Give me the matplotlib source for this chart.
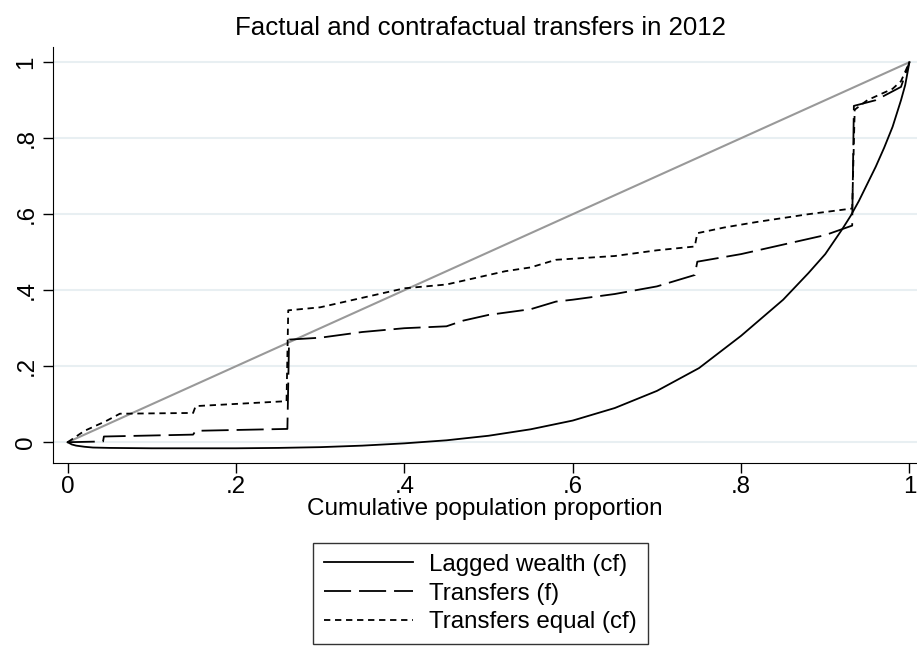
import numpy as np
import matplotlib
matplotlib.use("Agg")
import matplotlib.pyplot as plt

# Lorenz-type curves
x_lag = [0, 0.005, 0.01, 0.02, 0.03, 0.05, 0.1, 0.15, 0.2, 0.25, 0.3, 0.35, 0.4,
         0.45, 0.5, 0.55, 0.6, 0.65, 0.7, 0.75, 0.8, 0.85, 0.88, 0.9, 0.92, 0.93,
         0.94, 0.95, 0.96, 0.97, 0.98, 0.99, 0.995, 1.0]
y_lag = [0, -0.006, -0.009, -0.012, -0.014, -0.015, -0.016, -0.016, -0.016, -0.015,
         -0.013, -0.009, -0.003, 0.005, 0.017, 0.034, 0.057, 0.09, 0.135, 0.195,
         0.28, 0.375, 0.445, 0.495, 0.56, 0.595, 0.635, 0.68, 0.725, 0.775, 0.83,
         0.9, 0.94, 1.0]

x_tr = [0, 0.042, 0.043, 0.149, 0.152, 0.261, 0.263, 0.30, 0.35, 0.40, 0.45, 0.47,
        0.50, 0.55, 0.58, 0.60, 0.65, 0.70, 0.745, 0.748, 0.80, 0.85, 0.90, 0.932,
        0.934, 0.96, 0.99, 1.0]
y_tr = [0, 0.002, 0.015, 0.02, 0.03, 0.035, 0.27, 0.275, 0.29, 0.30, 0.305, 0.32,
        0.335, 0.35, 0.37, 0.375, 0.39, 0.41, 0.44, 0.475, 0.495, 0.52, 0.545, 0.57,
        0.885, 0.90, 0.935, 1.0]

x_eq = [0, 0.02, 0.045, 0.062, 0.149, 0.152, 0.26, 0.262, 0.30, 0.33, 0.37, 0.40,
        0.45, 0.48, 0.52, 0.55, 0.58, 0.65, 0.70, 0.745, 0.748, 0.78, 0.82, 0.88,
        0.932, 0.935, 0.95, 0.98, 0.99, 1.0]
y_eq = [0, 0.03, 0.055, 0.075, 0.077, 0.095, 0.108, 0.347, 0.355, 0.37, 0.39, 0.405,
        0.415, 0.43, 0.45, 0.46, 0.48, 0.49, 0.505, 0.515, 0.55, 0.565, 0.58, 0.60,
        0.615, 0.875, 0.90, 0.93, 0.95, 1.0]

ticks = [0, 0.2, 0.4, 0.6, 0.8, 1]
tick_labels = ["0", ".2", ".4", ".6", ".8", "1"]

plt.rcParams['font.family'] = ['Liberation Sans', 'DejaVu Sans']

fig = plt.figure(figsize=(9.17, 6.58), dpi=100)
ax = fig.add_axes([0.0573, 0.2956, 0.9427, 0.633])

for t in ticks:
    ax.axhline(t, color='#e8eff2', lw=1.5, zorder=0)

ax.plot([0, 1], [0, 1], color='#999999', lw=1.5, zorder=1)
l1, = ax.plot(x_lag, y_lag, color='black', lw=1.3, label='Lagged wealth (cf)')
l2, = ax.plot(x_tr, y_tr, color='black', lw=1.3, dashes=(15, 4.4),
              label='Transfers (f)')
l3, = ax.plot(x_eq, y_eq, color='black', lw=1.3, dashes=(3.5, 2.6),
              label='Transfers equal (cf)')

ax.set_xlim(-0.018, 1.009)
ax.set_ylim(-0.056, 1.040)
ax.set_xticks(ticks)
ax.set_xticklabels(tick_labels, fontsize=17.4)
ax.set_yticks(ticks)
ax.set_yticklabels(tick_labels, fontsize=17.4, rotation=90, va='center')
ax.tick_params(direction='out', length=7, width=1)
ax.tick_params(axis='x', pad=2)
ax.tick_params(axis='y', pad=4)
ax.spines['top'].set_visible(False)
ax.spines['right'].set_visible(False)
ax.set_xlabel('Cumulative population proportion', fontsize=17.5, labelpad=0)
ax.set_title('Factual and contrafactual transfers in 2012', fontsize=18.6,
             pad=8.6, x=0.4945)

leg = fig.legend(handles=[l1, l2, l3], loc='upper center',
                 bbox_to_anchor=(0.524, 0.1748), fontsize=17.4, frameon=True,
                 fancybox=False, edgecolor='black', handlelength=3.7,
                 handletextpad=0.66, borderpad=0.45, labelspacing=0.28,
                 borderaxespad=0)
leg.get_frame().set_linewidth(1)

fig.savefig('out.png', dpi=100)
